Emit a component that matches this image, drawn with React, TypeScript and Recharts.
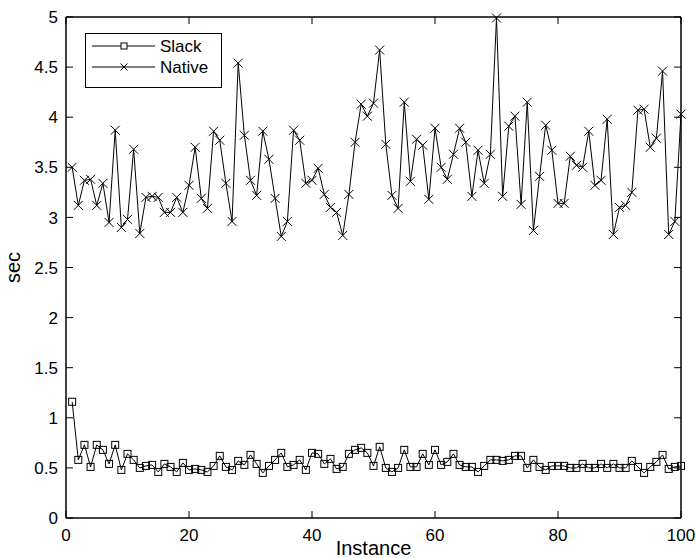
import React from "react";
import { LineChart, Line, XAxis, YAxis, Legend } from "recharts";

const instances = [
  1, 2, 3, 4, 5, 6, 7, 8, 9, 10, 11, 12, 13, 14, 15, 16, 17, 18, 19, 20,
  21, 22, 23, 24, 25, 26, 27, 28, 29, 30, 31, 32, 33, 34, 35, 36, 37, 38, 39, 40,
  41, 42, 43, 44, 45, 46, 47, 48, 49, 50, 51, 52, 53, 54, 55, 56, 57, 58, 59, 60,
  61, 62, 63, 64, 65, 66, 67, 68, 69, 70, 71, 72, 73, 74, 75, 76, 77, 78, 79, 80,
  81, 82, 83, 84, 85, 86, 87, 88, 89, 90, 91, 92, 93, 94, 95, 96, 97, 98, 99, 100,
];

const slack = [
  1.16, 0.58, 0.73, 0.51, 0.73, 0.68, 0.54, 0.73, 0.48, 0.64,
  0.58, 0.5, 0.52, 0.53, 0.46, 0.54, 0.51, 0.46, 0.55, 0.48,
  0.49, 0.48, 0.46, 0.52, 0.62, 0.51, 0.48, 0.57, 0.53, 0.63,
  0.54, 0.45, 0.52, 0.58, 0.65, 0.51, 0.53, 0.58, 0.48, 0.65,
  0.64, 0.54, 0.59, 0.49, 0.51, 0.64, 0.68, 0.7, 0.65, 0.52,
  0.71, 0.5, 0.46, 0.5, 0.68, 0.51, 0.51, 0.64, 0.53, 0.68,
  0.53, 0.56, 0.64, 0.53, 0.51, 0.51, 0.46, 0.52, 0.58, 0.58,
  0.57, 0.58, 0.62, 0.62, 0.5, 0.58, 0.51, 0.48, 0.52, 0.52,
  0.52, 0.5, 0.5, 0.54, 0.5, 0.5, 0.54, 0.5, 0.54, 0.5,
  0.5, 0.57, 0.51, 0.45, 0.51, 0.56, 0.63, 0.49, 0.51, 0.52,
];

const native = [
  3.5, 3.12, 3.37, 3.38, 3.12, 3.34, 2.95, 3.87, 2.9, 2.98,
  3.68, 2.84, 3.2, 3.21, 3.2, 3.05, 3.05, 3.2, 3.05, 3.32,
  3.7, 3.19, 3.09, 3.86, 3.77, 3.34, 2.96, 4.54, 3.82, 3.37,
  3.22, 3.86, 3.58, 3.19, 2.81, 2.96, 3.87, 3.77, 3.34, 3.37,
  3.49, 3.23, 3.1, 3.05, 2.82, 3.23, 3.75, 4.13, 4.01, 4.14,
  4.67, 3.73, 3.22, 3.09, 4.15, 3.36, 3.78, 3.72, 3.18, 3.89,
  3.5, 3.38, 3.63, 3.89, 3.75, 3.21, 3.67, 3.34, 3.63, 4.99,
  3.21, 3.91, 4.01, 3.13, 4.15, 2.87, 3.41, 3.92, 3.67, 3.14,
  3.14, 3.61, 3.52, 3.5, 3.86, 3.32, 3.37, 3.98, 2.83, 3.1,
  3.12, 3.25, 4.07, 4.08, 3.7, 3.79, 4.46, 2.83, 2.96, 4.03,
];

const xTicks = [0, 20, 40, 60, 80, 100];
const yTicks = [0, 0.5, 1, 1.5, 2, 2.5, 3, 3.5, 4, 4.5, 5];
const legendOrder = ["slack", "native"];

const data = instances.map((x, i) => ({ x, slack: slack[i], native: native[i] }));

const FONT = "'Liberation Sans', Arial, Helvetica, sans-serif";
const axisLine = { stroke: "#000", strokeWidth: 1.5 };
const TICK_LEN = 7;
const X_GAP = 10; // bottom labels: gap between axis and label top
const Y_GAP = 8; // left labels: gap between label end and axis

// ticks point inward, labels sit where the axis puts them
function BottomTick(props: any) {
  const { x, y, payload } = props;
  const y0 = y - X_GAP;
  return (
    <g>
      <path d={`M${x},${y0}V${y0 - TICK_LEN}`} stroke="#000" strokeWidth={1} />
      <text x={x} y={y} dy="0.75em" textAnchor="middle" fontSize={17} fontFamily={FONT} fill="#000">
        {payload.value}
      </text>
    </g>
  );
}

function LeftTick(props: any) {
  const { x, y, payload } = props;
  const x0 = x + Y_GAP;
  return (
    <g>
      <path d={`M${x0},${y}H${x0 + TICK_LEN}`} stroke="#000" strokeWidth={1} />
      <text x={x} y={y} dy="0.36em" textAnchor="end" fontSize={17} fontFamily={FONT} fill="#000">
        {payload.value}
      </text>
    </g>
  );
}

function TopTick(props: any) {
  const { x, y } = props;
  return <path d={`M${x},${y}V${y + TICK_LEN}`} stroke="#000" strokeWidth={1} />;
}

function RightTick(props: any) {
  const { x, y } = props;
  return <path d={`M${x},${y}H${x - TICK_LEN}`} stroke="#000" strokeWidth={1} />;
}

function SquareDot(props: any) {
  const { cx, cy, index } = props;
  if (cx == null || cy == null) return <g key={`s-${index}`} />;
  return (
    <rect
      key={`s-${index}`}
      x={cx - 3.5}
      y={cy - 3.5}
      width={7}
      height={7}
      fill="none"
      stroke="#000"
      strokeWidth={1}
    />
  );
}

function CrossDot(props: any) {
  const { cx, cy, index } = props;
  if (cx == null || cy == null) return <g key={`n-${index}`} />;
  const r = 4.5;
  return (
    <g key={`n-${index}`}>
      <line x1={cx - r} y1={cy - r} x2={cx + r} y2={cy + r} stroke="#000" strokeWidth={1} />
      <line x1={cx - r} y1={cy + r} x2={cx + r} y2={cy - r} stroke="#000" strokeWidth={1} />
    </g>
  );
}

function LegendBox(props: any) {
  const items = [...(props.payload || [])].sort(
    (a: any, b: any) => legendOrder.indexOf(a.dataKey) - legendOrder.indexOf(b.dataKey)
  );
  return (
    <svg width={137} height={55} style={{ display: "block" }}>
      <rect x={0.5} y={0.5} width={136} height={54} fill="#fff" stroke="#000" strokeWidth={1} />
      {items.map((item: any, i: number) => {
        const y = 13 + i * 21;
        const cx = 39;
        return (
          <g key={item.value}>
            <line x1={7} y1={y} x2={70} y2={y} stroke="#000" strokeWidth={1} />
            {item.dataKey === "slack" ? (
              <rect x={cx - 3} y={y - 3} width={6} height={6} fill="#fff" stroke="#000" />
            ) : (
              <g>
                <line x1={cx - 3.5} y1={y - 3.5} x2={cx + 3.5} y2={y + 3.5} stroke="#000" />
                <line x1={cx - 3.5} y1={y + 3.5} x2={cx + 3.5} y2={y - 3.5} stroke="#000" />
              </g>
            )}
            <text x={75} y={y + 6} fontSize={17} fontFamily={FONT} fill="#000">
              {item.value}
            </text>
          </g>
        );
      })}
    </svg>
  );
}

export default function App() {
  return (
    <div style={{ position: "absolute", left: 0, top: 0, background: "#fff" }}>
      <LineChart width={696} height={558} data={data} margin={{ top: 0, right: 0, bottom: 0, left: 0 }}>
        <XAxis
          xAxisId="b"
          dataKey="x"
          type="number"
          domain={[0, 100]}
          ticks={xTicks}
          interval={0}
          height={40}
          tickSize={0}
          tickLine={false}
          tickMargin={X_GAP}
          axisLine={axisLine}
          tick={BottomTick}
          label={{
            value: "Instance",
            position: "insideBottom",
            offset: 3,
            style: { fill: "#000", fontSize: 20, fontFamily: FONT },
          }}
        />
        <XAxis
          xAxisId="t"
          orientation="top"
          dataKey="x"
          type="number"
          domain={[0, 100]}
          ticks={xTicks}
          interval={0}
          height={17}
          tickSize={0}
          tickMargin={0}
          tickLine={false}
          axisLine={axisLine}
          tick={TopTick}
        />
        <YAxis
          yAxisId="l"
          type="number"
          domain={[0, 5]}
          ticks={yTicks}
          interval={0}
          width={66}
          tickSize={0}
          tickLine={false}
          tickMargin={Y_GAP}
          axisLine={axisLine}
          tick={LeftTick}
          label={{
            value: "sec",
            angle: -90,
            position: "insideLeft",
            offset: 13,
            style: { fill: "#000", fontSize: 20, fontFamily: FONT, textAnchor: "middle" },
          }}
        />
        <YAxis
          yAxisId="r"
          orientation="right"
          type="number"
          domain={[0, 5]}
          ticks={yTicks}
          interval={0}
          width={15}
          tickSize={0}
          tickMargin={0}
          tickLine={false}
          axisLine={axisLine}
          tick={RightTick}
        />
        <Legend
          layout="vertical"
          align="center"
          verticalAlign="middle"
          content={<LegendBox />}
          wrapperStyle={{ left: 85, top: 33, width: 137, height: 55 }}
        />
        <Line
          xAxisId="b"
          yAxisId="l"
          dataKey="slack"
          name="Slack"
          stroke="#000"
          strokeWidth={1}
          dot={SquareDot}
          activeDot={false}
          isAnimationActive={false}
        />
        <Line
          xAxisId="t"
          yAxisId="r"
          dataKey="native"
          name="Native"
          stroke="#000"
          strokeWidth={1}
          dot={CrossDot}
          activeDot={false}
          isAnimationActive={false}
        />
      </LineChart>
    </div>
  );
}
